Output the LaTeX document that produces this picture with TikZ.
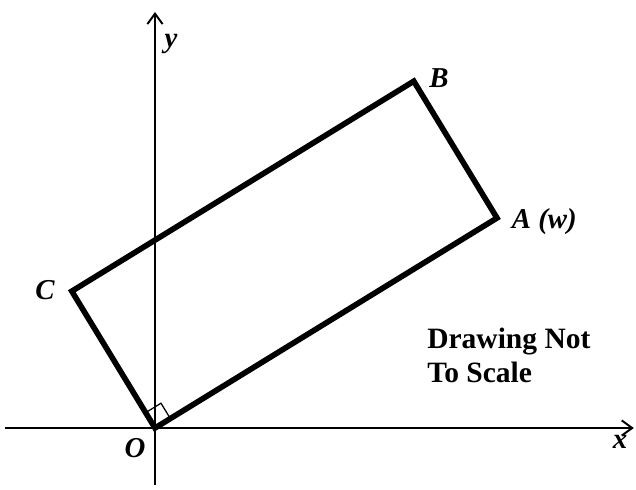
\documentclass[tikz,border=0pt]{standalone}
\usepackage{fontspec}
\setmainfont{Liberation Serif}
\usetikzlibrary{arrows.meta,calc}
\begin{document}
\begin{tikzpicture}[
    axis/.style={line width=1pt,-{Straight Barb[length=2.6mm,width=3.8mm,line width=1.4pt]}},
    side/.style={line width=4pt,line join=miter},
    lab/.style={font=\fontsize{20.5}{24}\selectfont\bfseries\itshape}]
  \useasboundingbox (-3.875,-1.525) rectangle (12.025,10.7);
  % axes
  \coordinate (xs) at (-3.75,0);
  \coordinate (xe) at (11.97,0);
  \coordinate (ys) at (0,-1.425);
  \coordinate (ye) at (0,10.4);
  \draw[axis] (xs) -- (xe);
  \draw[axis] (ys) -- (ye);
  \node[lab] (xlab) at (11.625,-0.35) {x};
  \node[lab] (ylab) at (0.4,9.6) {y};
  % rectangle OABC
  \coordinate (O) at (0,0);
  \coordinate (A) at (8.55,5.25);
  \coordinate (C) at (-2.08,3.42);
  \coordinate (B) at ($(A)+(C)$);
  \draw[side] (O) -- (A) -- (B) -- (C) -- cycle;
  \draw[line width=0.9pt] ($(O)!0.45cm!(A)$) -- ($(O)!0.45cm!(A)+(O)!0.45cm!(C)$) -- ($(O)!0.45cm!(C)$);
  \node[lab] (olab) at (-0.5,-0.5) {O};
  \node[lab] (alab) at (8.8,5.15) [anchor=west] {A (w)};
  \node[lab] (blab) at (7.1,8.75) {B};
  \node[lab] (clab) at (-2.75,3.45) {C};
  \node[font=\fontsize{21}{24}\selectfont\bfseries,align=left,anchor=north west,inner sep=0]
    (note) at (6.8,2.5) {Drawing Not\\To Scale};
\end{tikzpicture}
\end{document}
